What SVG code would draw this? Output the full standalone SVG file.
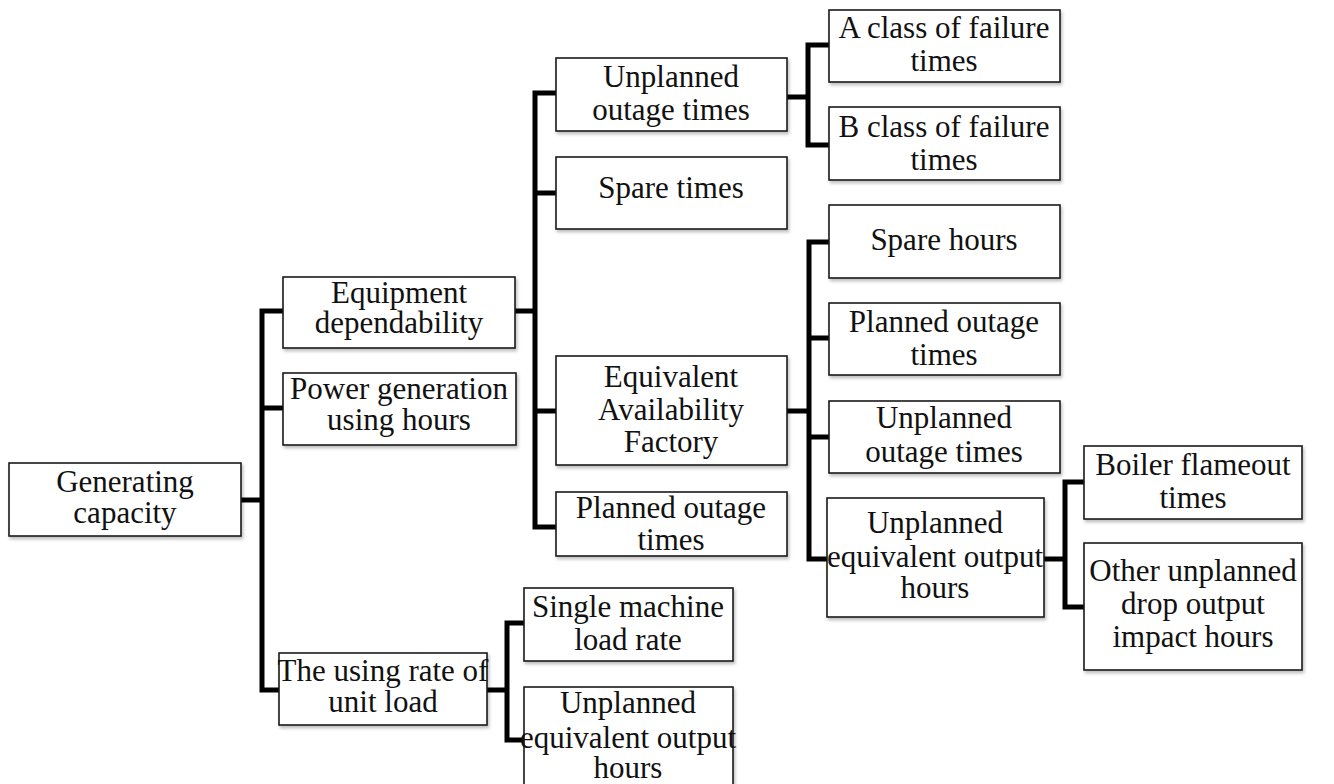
<svg xmlns="http://www.w3.org/2000/svg" width="1334" height="784" viewBox="0 0 1334 784">
<style>
  .box { fill: #ffffff; stroke: #1a1a1a; stroke-width: 1.6; filter: url(#sh); }
  .t { font-family: "Liberation Serif", "Times New Roman", serif; font-size: 31px; fill: #111111; text-anchor: middle; }
  .c { fill: none; stroke: #000000; stroke-width: 5; stroke-linejoin: miter; stroke-linecap: square; }
</style>
<defs>
  <filter id="sh" x="-10%" y="-10%" width="125%" height="130%">
    <feDropShadow dx="1.5" dy="2.5" stdDeviation="1.8" flood-color="#000000" flood-opacity="0.25"/>
  </filter>
</defs>
<rect width="1334" height="784" fill="#ffffff"/>

<g id="connectors">
  <path class="c" d="M241,500 H262 M262,311 V690 M262,311 H283 M262,408 H283 M262,690 H279"/>
  <path class="c" d="M515,311 H535 M535,93 V527 M535,93 H556 M535,193 H556 M535,411 H556 M535,527 H556"/>
  <path class="c" d="M787,97 H808 M808,45 V145 M808,45 H829 M808,145 H829"/>
  <path class="c" d="M787,411 H809 M809,242 V559 M809,242 H829 M809,338 H829 M809,437 H829 M809,559 H827"/>
  <path class="c" d="M1044,559 H1065 M1065,482 V607 M1065,482 H1084 M1065,607 H1084"/>
  <path class="c" d="M487,690 H507 M507,623 V740 M507,623 H524 M507,740 H524"/>
</g>

<g id="n-generating-capacity">
  <rect class="box" x="9" y="463" width="232" height="73"/>
  <text class="t" x="125" y="492">Generating</text>
  <text class="t" x="125" y="523">capacity</text>
</g>
<g id="n-equipment-dependability">
  <rect class="box" x="283" y="277" width="232" height="71"/>
  <text class="t" x="399" y="303">Equipment</text>
  <text class="t" x="399" y="333">dependability</text>
</g>
<g id="n-power-generation">
  <rect class="box" x="283" y="373" width="233" height="72"/>
  <text class="t" x="399" y="399">Power generation</text>
  <text class="t" x="399" y="430">using hours</text>
</g>
<g id="n-using-rate">
  <rect class="box" x="279" y="653" width="208" height="72"/>
  <text class="t" x="383" y="681">The using rate of</text>
  <text class="t" x="383" y="712">unit load</text>
</g>
<g id="n-unplanned-outage-mid">
  <rect class="box" x="556" y="58" width="231" height="73"/>
  <text class="t" x="671" y="87">Unplanned</text>
  <text class="t" x="671" y="120">outage times</text>
</g>
<g id="n-spare-times">
  <rect class="box" x="556" y="157" width="231" height="72"/>
  <text class="t" x="671" y="198">Spare times</text>
</g>
<g id="n-equivalent-availability">
  <rect class="box" x="556" y="356" width="231" height="109"/>
  <text class="t" x="671" y="387">Equivalent</text>
  <text class="t" x="671" y="420">Availability</text>
  <text class="t" x="671" y="452">Factory</text>
</g>
<g id="n-planned-outage-mid">
  <rect class="box" x="556" y="492" width="231" height="64"/>
  <text class="t" x="671" y="518">Planned outage</text>
  <text class="t" x="671" y="550">times</text>
</g>
<g id="n-single-machine">
  <rect class="box" x="524" y="588" width="209" height="73"/>
  <text class="t" x="628" y="617">Single machine</text>
  <text class="t" x="628" y="650">load rate</text>
</g>
<g id="n-unplanned-equivalent-bottom">
  <rect class="box" x="524" y="687" width="209" height="110"/>
  <text class="t" x="628" y="713">Unplanned</text>
  <text class="t" x="628" y="748">equivalent output</text>
  <text class="t" x="628" y="778">hours</text>
</g>
<g id="n-a-class">
  <rect class="box" x="829" y="10" width="231" height="72"/>
  <text class="t" x="944" y="38">A class of failure</text>
  <text class="t" x="944" y="71">times</text>
</g>
<g id="n-b-class">
  <rect class="box" x="829" y="107" width="231" height="73"/>
  <text class="t" x="944" y="137">B class of failure</text>
  <text class="t" x="944" y="170">times</text>
</g>
<g id="n-spare-hours">
  <rect class="box" x="829" y="205" width="231" height="73"/>
  <text class="t" x="944" y="250">Spare hours</text>
</g>
<g id="n-planned-outage-right">
  <rect class="box" x="829" y="303" width="231" height="72"/>
  <text class="t" x="944" y="332">Planned outage</text>
  <text class="t" x="944" y="365">times</text>
</g>
<g id="n-unplanned-outage-right">
  <rect class="box" x="829" y="401" width="231" height="72"/>
  <text class="t" x="944" y="428">Unplanned</text>
  <text class="t" x="944" y="462">outage times</text>
</g>
<g id="n-unplanned-equivalent-right">
  <rect class="box" x="827" y="498" width="217" height="119"/>
  <text class="t" x="935" y="533">Unplanned</text>
  <text class="t" x="935" y="567">equivalent output</text>
  <text class="t" x="935" y="598">hours</text>
</g>
<g id="n-boiler-flameout">
  <rect class="box" x="1084" y="446" width="218" height="73"/>
  <text class="t" x="1193" y="475">Boiler flameout</text>
  <text class="t" x="1193" y="508">times</text>
</g>
<g id="n-other-unplanned">
  <rect class="box" x="1084" y="543" width="218" height="127"/>
  <text class="t" x="1193" y="581">Other unplanned</text>
  <text class="t" x="1193" y="614">drop output</text>
  <text class="t" x="1193" y="647">impact hours</text>
</g>
</svg>
